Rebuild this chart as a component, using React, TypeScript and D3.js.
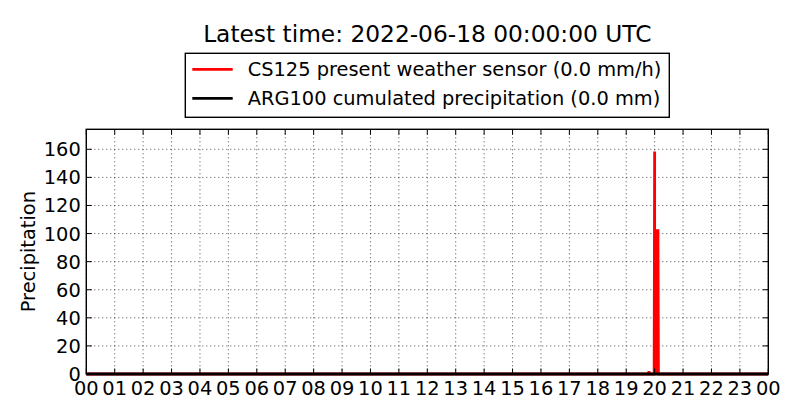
import { useEffect, useRef } from "react";
import * as d3 from "d3";

// CS125 present weather sensor, precipitation rate (mm/h)
const cs125Times = [
  "2022-06-17T00:00",
  "2022-06-17T19:47",
  "2022-06-17T19:48",
  "2022-06-17T19:49",
  "2022-06-17T19:59",
  "2022-06-17T20:00",
  "2022-06-17T20:00",
  "2022-06-17T20:07",
  "2022-06-17T20:08",
  "2022-06-18T00:00",
];
const cs125Values = [0, 0, 2, 0, 0, 158.4, 102, 102, 0, 0];

// ARG100 cumulated precipitation (mm)
const argTimes = ["2022-06-17T00:00", "2022-06-18T00:00"];
const argValues = [0, 0];

const yTicks = [0, 20, 40, 60, 80, 100, 120, 140, 160];
const titleText = "Latest time: 2022-06-18 00:00:00 UTC";
const legendLabels = [
  "CS125 present weather sensor (0.0 mm/h)",
  "ARG100 cumulated precipitation (0.0 mm)",
];
const legendColors = ["#ff0000", "#000000"];

const parse = (s: string) => new Date(s + ":00Z");

export default function App() {
  const ref = useRef<SVGSVGElement | null>(null);

  useEffect(() => {
    const svgEl = ref.current;
    if (!svgEl) return;

    const width = 800;
    const height = 420;
    const margin = { top: 129.3, right: 31.7, bottom: 46, left: 86.3 };
    const w = width - margin.left - margin.right;
    const h = height - margin.top - margin.bottom;
    const font = "DejaVu Sans, sans-serif";
    const fs = 19.4;

    const svg = d3.select(svgEl);
    svg.selectAll("*").remove();
    svg.attr("width", width).attr("height", height);

    svg.append("rect").attr("width", width).attr("height", height).attr("fill", "#fff");

    const red = cs125Times.map((t, i) => ({ t: parse(t), v: cs125Values[i] }));
    const blk = argTimes.map((t, i) => ({ t: parse(t), v: argValues[i] }));

    const x = d3
      .scaleUtc()
      .domain([parse("2022-06-17T00:00"), parse("2022-06-18T00:00")])
      .range([0, w]);
    const ymax = (d3.max(cs125Values) ?? 1) * 1.1; // ylim = max * 1.1
    const y = d3.scaleLinear().domain([0, ymax]).range([h, 0]);

    const g = svg.append("g").attr("transform", `translate(${margin.left},${margin.top})`);

    const xTicks = x.ticks(d3.utcHour.every(1)!);

    // ------- grid (dotted) -------
    g.selectAll("line.gx")
      .data(xTicks)
      .enter()
      .append("line")
      .attr("x1", (d) => x(d))
      .attr("x2", (d) => x(d))
      .attr("y1", 0)
      .attr("y2", h)
      .attr("stroke", "#000")
      .attr("stroke-width", 0.7)
      .attr("stroke-dasharray", "1,3");
    g.selectAll("line.gy")
      .data(yTicks)
      .enter()
      .append("line")
      .attr("x1", 0)
      .attr("x2", w)
      .attr("y1", (d) => y(d))
      .attr("y2", (d) => y(d))
      .attr("stroke", "#000")
      .attr("stroke-width", 0.7)
      .attr("stroke-dasharray", "1,3");

    // ------- series -------
    const area = d3
      .area<{ t: Date; v: number }>()
      .x((d) => x(d.t))
      .y0(y(0))
      .y1((d) => y(d.v));
    const line = d3
      .line<{ t: Date; v: number }>()
      .x((d) => x(d.t))
      .y((d) => y(d.v));

    g.append("path").datum(red).attr("d", area).attr("fill", "#ff0000");
    g.append("path")
      .datum(red)
      .attr("d", line)
      .attr("fill", "none")
      .attr("stroke", "#ff0000")
      .attr("stroke-width", 2.8)
      .attr("stroke-linejoin", "miter");
    g.append("path")
      .datum(blk)
      .attr("d", line)
      .attr("fill", "none")
      .attr("stroke", "#000")
      .attr("stroke-width", 2.8);

    // ------- frame + inward ticks -------
    g.append("rect")
      .attr("width", w)
      .attr("height", h)
      .attr("fill", "none")
      .attr("stroke", "#000")
      .attr("stroke-width", 1.4);

    const tl = 5.5;
    xTicks.forEach((d) => {
      g.append("line").attr("x1", x(d)).attr("x2", x(d)).attr("y1", h).attr("y2", h - tl).attr("stroke", "#000");
      g.append("line").attr("x1", x(d)).attr("x2", x(d)).attr("y1", 0).attr("y2", tl).attr("stroke", "#000");
    });
    yTicks.forEach((d) => {
      g.append("line").attr("x1", 0).attr("x2", tl).attr("y1", y(d)).attr("y2", y(d)).attr("stroke", "#000");
      g.append("line").attr("x1", w).attr("x2", w - tl).attr("y1", y(d)).attr("y2", y(d)).attr("stroke", "#000");
    });

    // ------- tick labels -------
    g.selectAll("text.xl")
      .data(xTicks)
      .enter()
      .append("text")
      .attr("x", (d) => x(d))
      .attr("y", h + 21.3)
      .attr("text-anchor", "middle")
      .attr("font-family", font)
      .attr("font-size", fs)
      .text((d) => d3.utcFormat("%H")(d));
    g.selectAll("text.yl")
      .data(yTicks)
      .enter()
      .append("text")
      .attr("x", -5.5)
      .attr("y", (d) => y(d))
      .attr("dy", "0.36em")
      .attr("text-anchor", "end")
      .attr("font-family", font)
      .attr("font-size", fs)
      .text((d) => d);

    // y label
    svg
      .append("text")
      .attr("transform", `translate(35,${margin.top + h / 2}) rotate(-90)`)
      .attr("text-anchor", "middle")
      .attr("font-family", font)
      .attr("font-size", fs)
      .text("Precipitation");

    // title
    svg
      .append("text")
      .attr("x", margin.left + w / 2)
      .attr("y", 42.3)
      .attr("text-anchor", "middle")
      .attr("font-family", font)
      .attr("font-size", 23.3)
      .text(titleText);

    // ------- legend -------
    const lg = svg.append("g");
    lg.append("rect")
      .attr("x", 185.3)
      .attr("y", 53.3)
      .attr("width", 484)
      .attr("height", 64)
      .attr("fill", "#fff")
      .attr("stroke", "#000")
      .attr("stroke-width", 1.4);
    legendLabels.forEach((label, i) => {
      const ly = 69.3 + i * 29;
      lg.append("line")
        .attr("x1", 192.3)
        .attr("x2", 232.7)
        .attr("y1", ly)
        .attr("y2", ly)
        .attr("stroke", legendColors[i])
        .attr("stroke-width", 2.8);
      lg.append("text")
        .attr("x", 247.7)
        .attr("y", ly)
        .attr("dy", "0.36em")
        .attr("font-family", font)
        .attr("font-size", fs)
        .text(label);
    });
  }, []);

  return (
    <svg
      ref={ref}
      style={{ position: "absolute", left: 0, top: 0, display: "block" }}
    />
  );
}
